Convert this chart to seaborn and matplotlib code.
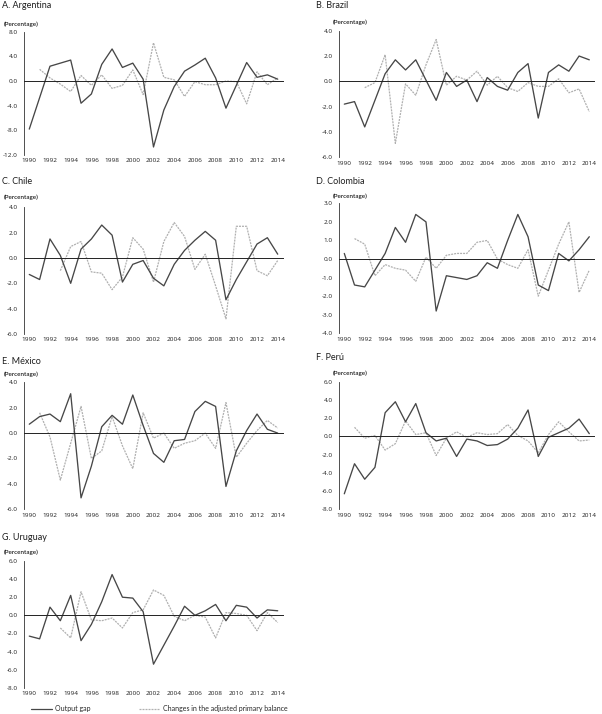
import numpy as np
import pandas as pd
import matplotlib
matplotlib.use("Agg")
import matplotlib.pyplot as plt
import seaborn as sns

nan = np.nan
years = list(range(1990, 2015))

# Output gap (solid) and changes in the adjusted primary balance (dotted), in %
argentina_gap = [-7.8, -2.7, 2.4, 2.9, 3.4, -3.6, -2.1, 2.7, 5.2, 2.2, 2.9, 0.3, -10.7,
                 -4.7, -0.9, 1.6, 2.6, 3.7, 0.5, -4.4, -0.7, 3.0, 0.6, 1.0, 0.3]
argentina_bal = [nan, 1.9, 0.5, -0.5, -1.7, 0.9, -0.7, 1.0, -1.2, -0.7, 1.8, -2.2, 6.2,
                 0.6, 0.2, -2.5, -0.1, -0.6, -0.6, 0.0, -0.1, -3.7, 1.5, -0.6, 0.5]
brazil_gap = [-1.8, -1.6, -3.6, -1.5, 0.6, 1.7, 0.9, 1.7, 0.1, -1.5, 0.7, -0.4, 0.1,
              -1.6, 0.3, -0.4, -0.7, 0.7, 1.4, -2.9, 0.7, 1.3, 0.8, 2.0, 1.7]
brazil_bal = [nan, nan, -0.5, -0.1, 2.1, -4.9, -0.2, -1.1, 1.3, 3.3, -0.3, 0.4, 0.1,
              0.8, -0.3, 0.4, -0.5, -0.8, -0.1, -0.4, -0.4, 0.2, -0.9, -0.6, -2.4]
chile_gap = [-1.3, -1.7, 1.5, 0.2, -2.0, 0.7, 1.5, 2.6, 1.8, -1.9, -0.5, -0.2, -1.6,
             -2.2, -0.5, 0.6, 1.4, 2.1, 1.4, -3.3, -1.7, -0.3, 1.1, 1.6, 0.3]
chile_bal = [nan, nan, nan, -1.0, 0.9, 1.3, -1.1, -1.2, -2.5, -1.5, 1.6, 0.7, -1.9,
             1.3, 2.8, 1.7, -0.9, 0.3, -2.2, -4.8, 2.5, 2.5, -1.0, -1.4, -0.2]
colombia_gap = [0.3, -1.4, -1.5, -0.6, 0.3, 1.7, 0.9, 2.4, 2.0, -2.8, -0.9, -1.0, -1.1,
                -0.9, -0.2, -0.5, 1.0, 2.4, 1.2, -1.4, -1.7, 0.3, -0.1, 0.5, 1.2]
colombia_bal = [nan, 1.1, 0.8, -0.9, -0.3, -0.5, -0.6, -1.2, 0.1, -0.5, 0.2, 0.3, 0.3,
                0.9, 1.0, 0.0, -0.3, -0.5, 0.5, -2.0, -0.6, 0.8, 2.0, -1.8, -0.6]
mexico_gap = [0.7, 1.3, 1.5, 0.9, 3.1, -5.1, -2.6, 0.5, 1.4, 0.7, 3.0, 0.6, -1.6,
              -2.3, -0.6, -0.5, 1.7, 2.5, 2.1, -4.2, -1.4, 0.2, 1.5, 0.3, 0.0]
mexico_bal = [nan, 1.6, -0.3, -3.7, -0.8, 2.1, -2.0, -1.4, 1.3, -1.0, -2.8, 1.6, -0.4,
              0.0, -1.2, -0.8, -0.6, 0.0, -1.2, 2.4, -1.9, -0.8, 0.2, 1.0, 0.4]
peru_gap = [-6.3, -3.0, -4.7, -3.4, 2.6, 3.8, 1.6, 3.6, 0.4, -0.5, -0.2, -2.2, -0.3,
            -0.5, -1.0, -0.9, -0.3, 0.9, 2.9, -2.2, -0.1, 0.4, 0.9, 1.9, 0.3]
peru_bal = [nan, 1.0, -0.2, 0.1, -1.5, -0.8, 1.7, 0.2, 0.4, -2.1, -0.2, 0.5, -0.1,
            0.4, 0.2, 0.3, 1.3, 0.1, -0.5, -1.8, 0.2, 1.6, 0.5, -0.5, -0.4]
uruguay_gap = [-2.3, -2.6, 0.9, -0.6, 2.2, -2.8, -1.0, 1.5, 4.5, 2.0, 1.9, 0.4, -5.4,
               -3.3, -1.2, 1.0, 0.0, 0.5, 1.2, -0.6, 1.1, 0.9, -0.3, 0.6, 0.5]
uruguay_bal = [nan, nan, nan, -1.4, -2.5, 2.6, -0.5, -0.6, -0.3, -1.4, 0.3, 0.6, 2.8,
               2.2, -0.1, -0.6, 0.0, -0.2, -2.5, 0.3, 0.2, 0.0, -1.7, 0.3, -0.8]

titles = ["A. Argentina", "B. Brazil", "C. Chile", "D. Colombia",
          "E. México", "F. Perú", "G. Uruguay"]
gaps = [argentina_gap, brazil_gap, chile_gap, colombia_gap, mexico_gap, peru_gap, uruguay_gap]
bals = [argentina_bal, brazil_bal, chile_bal, colombia_bal, mexico_bal, peru_bal, uruguay_bal]
# y-axis range and tick step per panel
y_ranges = [(-12, 8, 4), (-6, 4, 2), (-6, 4, 2), (-4, 3, 1), (-6, 4, 2), (-8, 6, 2), (-8, 6, 2)]

# layout in pixels: (left, right, top, bottom) of each plot area
W, H = 602, 714
left_col = (24.1, 282.9)
right_col = (339.2, 594.4)
boxes = [
    left_col + (31.7, 155.0), right_col + (30.7, 157.3),
    left_col + (207.3, 334.0), right_col + (203.3, 333.3),
    left_col + (382.3, 509.3), right_col + (381.7, 509.3),
    left_col + (561.0, 687.7),
]
title_pos = [(2, 6), (316, 6), (2, 181), (316, 181), (2, 361), (316, 358), (2, 538)]
pct_pos = [(4, 24.3), (333, 22.7), (4, 197.3), (333, 196.7), (4, 374), (333, 373.3), (4, 552)]

sns.set_style("white")
plt.rcParams['font.family'] = ['Lato', 'DejaVu Sans']
plt.rcParams['axes.unicode_minus'] = False
tick_font = ['Open Sans', 'DejaVu Sans']

dark = "#474747"
light = "#b0b0b0"
txt = "#1e1e1e"

fig = plt.figure(figsize=(W / 100, H / 100), dpi=100)

for i in range(len(titles)):
    l, r, t, b = boxes[i]
    ax = fig.add_axes([l / W, 1 - b / H, (r - l) / W, (b - t) / H])
    df = pd.DataFrame({"year": years, "gap": gaps[i], "bal": bals[i]})
    sns.lineplot(data=df, x="year", y="bal", ax=ax, color=light, lw=0.9,
                 linestyle=(0, (1.6, 0.8)))
    sns.lineplot(data=df, x="year", y="gap", ax=ax, color=dark, lw=0.95)

    ymin, ymax, step = y_ranges[i]
    ax.set_xlim(1989.5, 2014.5)
    ax.set_ylim(ymin, ymax)
    ax.set_xlabel("")
    ax.set_ylabel("")
    ticks = np.arange(ymin, ymax + step / 2, step)
    ax.set_yticks(ticks)
    ax.set_yticklabels([f"{v:.1f}" for v in ticks], family=tick_font)
    ax.tick_params(axis="y", direction="out", length=2, width=0.6, pad=2.5,
                   labelsize=4.6, colors=txt)

    for s in ["top", "right"]:
        ax.spines[s].set_visible(False)
    ax.spines["left"].set_color("#333333")
    ax.spines["left"].set_linewidth(0.6)
    # zero line with small ticks between categories
    ax.spines["bottom"].set_position(("data", 0))
    ax.spines["bottom"].set_color("#222222")
    ax.spines["bottom"].set_linewidth(0.7)
    ax.set_xticks(np.arange(1991.5, 2014, 2))
    ax.tick_params(axis="x", direction="in", length=2, width=0.6,
                   labelbottom=False, colors="#222222")

    sec = ax.secondary_xaxis("bottom")
    sec.spines["bottom"].set_visible(False)
    sec.set_xticks(years[::2])
    sec.set_xticklabels([str(y) for y in years[::2]], family=tick_font)
    sec.tick_params(axis="x", length=0, pad=2.5, labelsize=4.6, colors=txt)

    tx, ty = title_pos[i]
    fig.text(tx / W, 1 - ty / H, titles[i], fontsize=6.5, va="center", ha="left",
             color=txt)
    px, py = pct_pos[i]
    fig.text(px / W, 1 - py / H, "(Percentage)", fontsize=4.5, va="center", ha="left",
             color=txt, fontweight="semibold")

handles = [
    plt.Line2D([], [], color=dark, lw=0.9),
    plt.Line2D([], [], color=light, lw=0.9, linestyle=(0, (1.6, 0.8))),
]
fig.legend(handles, ["Output gap", "Changes in the adjusted primary balance"],
           loc="center left", bbox_to_anchor=(28 / W, 1 - 709 / H), ncol=2,
           frameon=False, fontsize=5.0, handlelength=3.0, handletextpad=0.5,
           columnspacing=7.0, borderaxespad=0)

fig.savefig("out.png", dpi=100)
